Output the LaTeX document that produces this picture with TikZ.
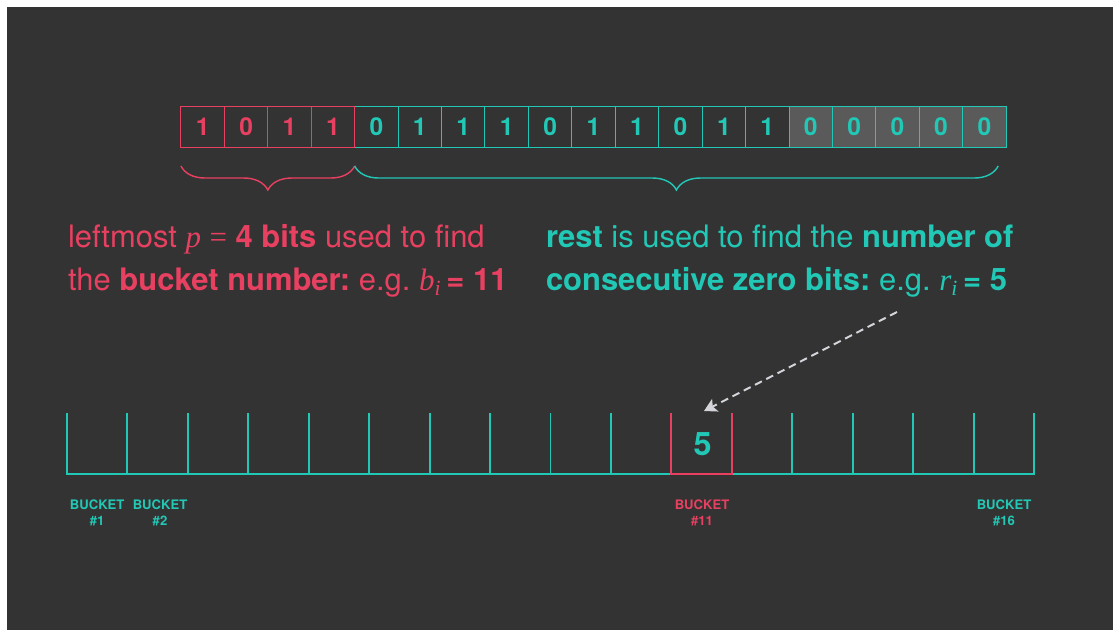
\documentclass[tikz,border=0pt]{standalone}
\usepackage{fontspec}
\setmainfont{TeX Gyre Heros}
\newfontfamily\varfont{Liberation Serif}
\usetikzlibrary{arrows.meta, decorations.pathreplacing, positioning}

\definecolor{bgcol}{RGB}{51,51,51}
\definecolor{hllred}{RGB}{232,64,96}
\definecolor{hllteal}{RGB}{34,200,182}
\definecolor{zerofill}{RGB}{90,90,90}
\definecolor{arrowgray}{RGB}{212,212,218}
\newcommand{\hllvar}[1]{{\varfont\itshape #1}}

\begin{document}
\begin{tikzpicture}[
  x=0.025cm, y=-0.025cm,
  every node/.style={inner sep=0pt, outer sep=0pt},
  bit/.style={rectangle, draw=hllteal, line width=0.7pt, minimum width=1.0855cm,
    minimum height=1.025cm, text=hllteal, font=\fontsize{17.5}{17.5}\selectfont\bfseries},
  redbit/.style={bit, draw=hllred, text=hllred},
  zerobit/.style={bit, fill=zerofill},
  bitbrace/.style={decorate, decoration={brace, mirror, amplitude=0.6cm}, line width=1pt},
  desc/.style={anchor=base west, font=\fontsize{22}{26}\selectfont\frenchspacing},
  bucket/.style={line width=1.4pt, draw=hllteal},
  bktlbl/.style={align=center, font=\fontsize{9.3}{11.5}\selectfont\bfseries, text=hllteal},
  hintarrow/.style={draw=arrowgray, line width=1.4pt, dash pattern=on 5.5pt off 3.5pt,
    -{Stealth[width=10pt, length=9pt, inset=2pt]}}
]

% Background
\fill[bgcol] (7,7) rectangle (1113,630);
\useasboundingbox (0,0) rectangle (1113,630);

% Bit string: bucket bits, rest, trailing zeros
\node[bit] (b5) at (376.4,126.5) {0};
\node[bit, right=0pt of b5] (b6) {1};
\node[bit, right=0pt of b6] (b7) {1};
\node[bit, right=0pt of b7] (b8) {1};
\node[bit, right=0pt of b8] (b9) {0};
\node[bit, right=0pt of b9] (b10) {1};
\node[bit, right=0pt of b10] (b11) {1};
\node[bit, right=0pt of b11] (b12) {0};
\node[bit, right=0pt of b12] (b13) {1};
\node[bit, right=0pt of b13] (b14) {1};
\node[zerobit, right=0pt of b14] (b15) {0};
\node[zerobit, right=0pt of b15] (b16) {0};
\node[zerobit, right=0pt of b16] (b17) {0};
\node[zerobit, right=0pt of b17] (b18) {0};
\node[zerobit, right=0pt of b18] (b19) {0};
\node[redbit, left=0pt of b5] (b4) {1};
\node[redbit, left=0pt of b4] (b3) {1};
\node[redbit, left=0pt of b3] (b2) {0};
\node[redbit, left=0pt of b2] (b1) {1};

% Braces
\draw[bitbrace, hllred] ([yshift=-0.475cm]b1.south west) -- ([yshift=-0.475cm]b4.south east);
\draw[bitbrace, hllteal] ([yshift=-0.475cm]b5.south west) -- ([xshift=-0.2cm, yshift=-0.475cm]b19.south east);

% Explanations
\node[desc, text=hllred] (leftA) at (68,247) {leftmost \hllvar{p} {\varfont=} \textbf{4 bits} used to find};
\node[desc, text=hllred] (leftB) at (68,291) {the \textbf{bucket number:} e.g. \hllvar{b}\textsubscript{\hllvar{i}}\,\textbf{= 11}};
\node[desc, text=hllteal] (rightA) at (546,247) {\textbf{rest} is used to find the \textbf{number of}};
\node[desc, text=hllteal] (rightB) at (546,291) {\textbf{consecutive zero bits:} e.g. \hllvar{r}\textsubscript{\hllvar{i}}\,\textbf{= 5}};

% Buckets
\draw[bucket] (67,413) -- (67,474) -- (1034,474) -- (1034,413);
\foreach \k in {1,...,15}
  \draw[bucket] ({67+60.4375*\k},413) -- ({67+60.4375*\k},474);
\draw[bucket, draw=hllred] (671.4,413) -- (671.4,474) -- (731.8,474) -- (731.8,413);
\node[font=\fontsize{23}{23}\selectfont\bfseries, text=hllteal] (val11) at (702.5,444) {5};

% Arrow to bucket 11
\coordinate (hintstart) at (897,312);
\coordinate (bkttop) at (704,411);
\draw[hintarrow] (hintstart) -- (bkttop);

% Bucket labels
\node[bktlbl] (lbl1) at (97.2,513) {BUCKET\\\#1};
\node[bktlbl] (lbl2) at (160,513) {BUCKET\\\#2};
\node[bktlbl, text=hllred] (lbl11) at (702,513) {BUCKET\\\#11};
\node[bktlbl] (lbl16) at (1004,513) {BUCKET\\\#16};

\end{tikzpicture}
\end{document}
